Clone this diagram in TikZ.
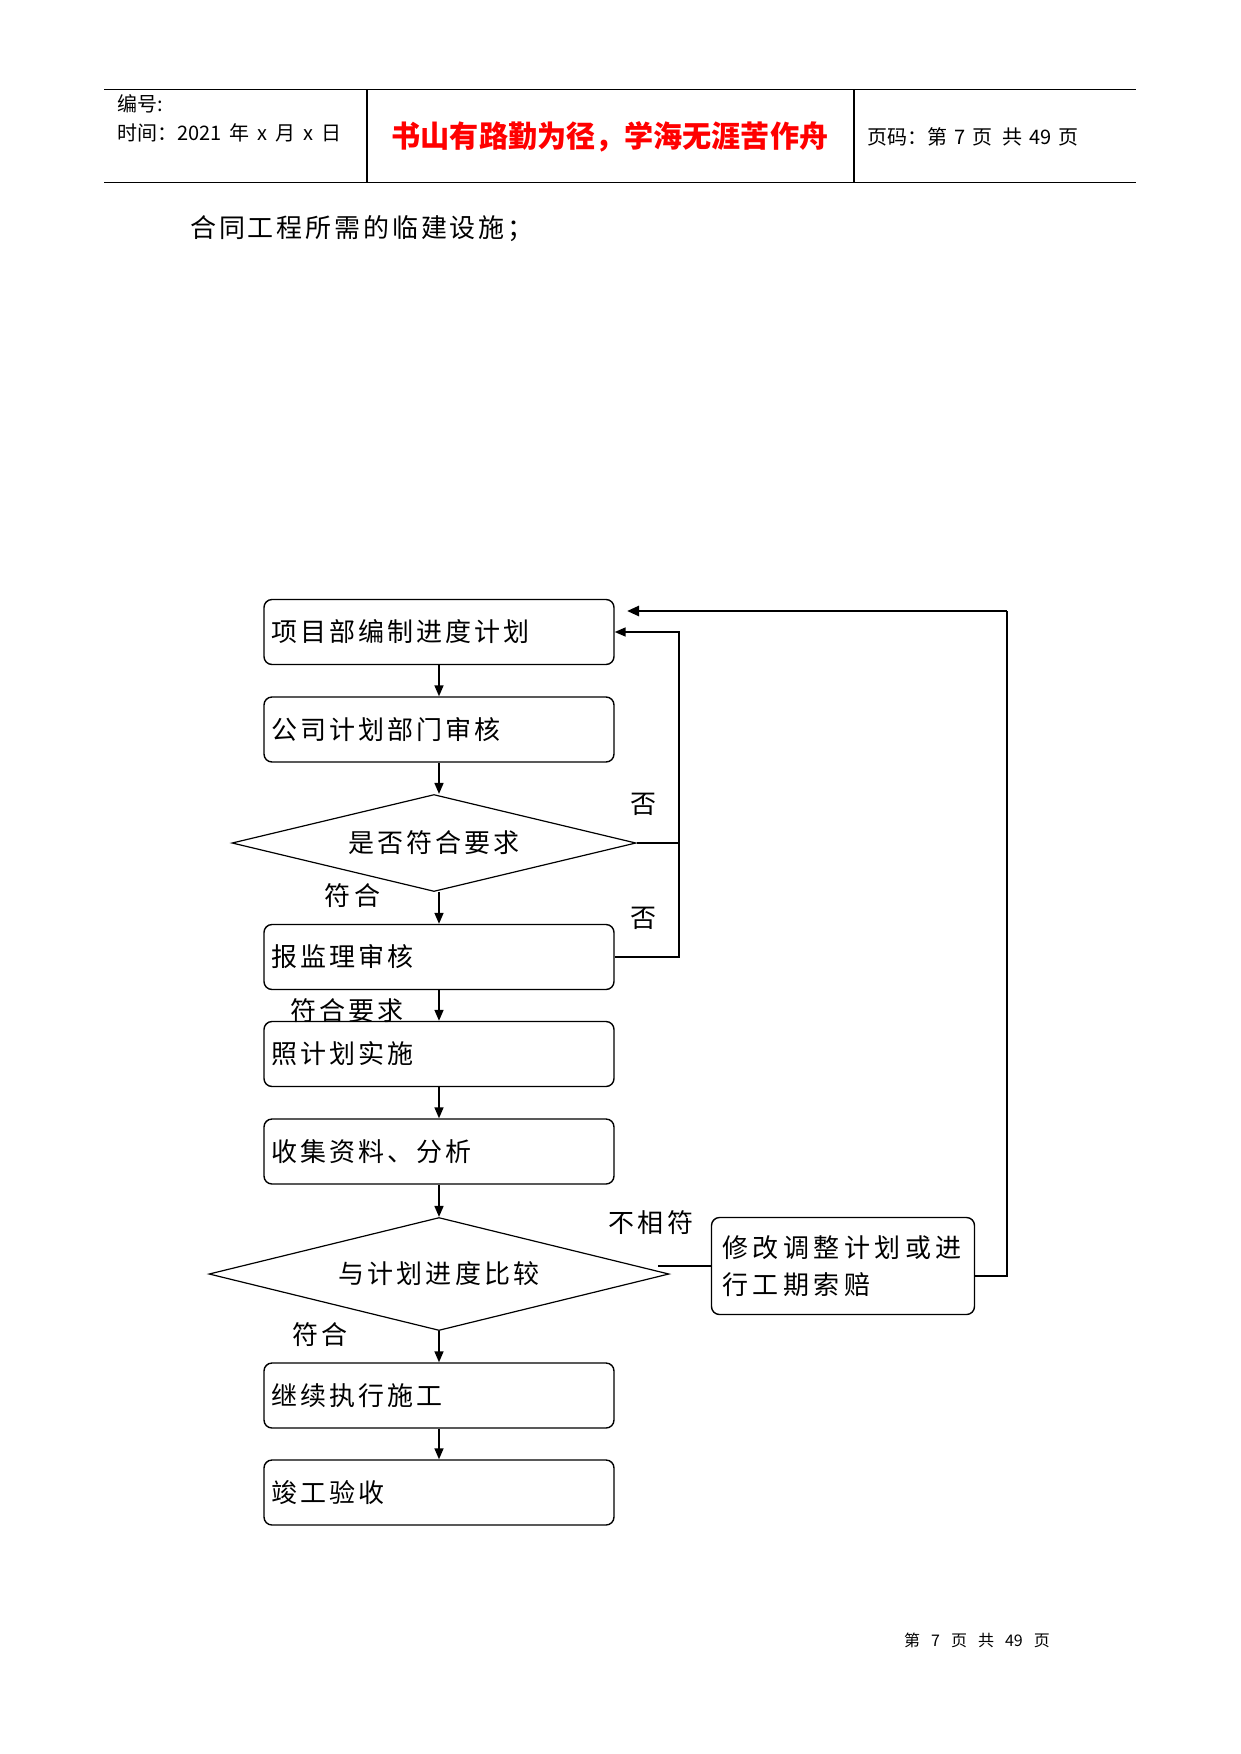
\documentclass[tikz,border=0pt]{standalone}
\usepackage{fontspec}
\setmainfont{Liberation Sans}
\newfontfamily\cjk{Noto Sans CJK SC}
\newfontfamily\cjkl[LetterSpace=12]{Noto Sans CJK SC}
\newfontfamily\cjkw[LetterSpace=17]{Noto Sans CJK SC}
\newfontfamily\cjkb[LetterSpace=11]{Noto Sans CJK SC}
\newfontfamily\cjkred[FakeStretch=0.97]{Noto Sans CJK SC}
\usetikzlibrary{arrows.meta,shapes.geometric}
\newcommand\bxfont{\cjkl\fontsize{26}{30}\selectfont}
\newcommand\bwfont{\cjkw\fontsize{26}{37}\selectfont}
\newcommand\hdfont{\cjk\fontsize{20}{24}\selectfont}
\begin{document}
\begin{tikzpicture}[x=1pt,y=-1pt,
  stepbox/.style={draw, line width=1.4pt, rounded corners=8pt, minimum height=65pt,
    text width=336pt, inner xsep=7pt, align=left, font=\bxfont},
  decision/.style={draw, diamond, shape aspect=4.2, line width=1.2pt, inner sep=0pt, font=\bxfont},
  lbl/.style={font=\bxfont, inner sep=0pt},
  arr/.style={line width=1.6pt, -{Triangle[length=11pt,width=9pt]}},
  conn/.style={line width=1.6pt},
  hline/.style={line width=1.2pt}]
\useasboundingbox (0,0) rectangle (1241,1754);
% header
\draw[hline] (104,89.5) -- (1136,89.5);
\draw[hline] (104,182.4) -- (1136,182.4);
\draw[hline] (367,89.5) -- (367,182.4);
\draw[hline] (854,89.5) -- (854,182.4);
\node[anchor=west, inner sep=0pt, font=\hdfont] (h1) at (117,104) {编号:};
\node[anchor=west, inner sep=0pt, font=\hdfont] (h2) at (117,133) {时间：2021\hspace{8pt}年\hspace{8pt}x\hspace{8pt}月\hspace{8pt}x\hspace{8pt}日};
\node[inner sep=0pt, text=red, font=\cjkred\bfseries\fontsize{30}{34}\selectfont] (h3) at (610,137) {书山有路勤为径，学海无涯苦作舟};
\node[anchor=west, inner sep=0pt, font=\hdfont] (h4) at (867,137) {页码：第\hspace{7pt}7\hspace{7pt}页\hspace{10pt}共\hspace{7pt}49\hspace{7pt}页};
% body line
\node[anchor=west, inner sep=0pt, font=\cjkb\fontsize{26}{30}\selectfont] (body) at (190,229) {合同工程所需的临建设施；};
% flowchart boxes
\node[stepbox] (b1) at (439,632) {项目部编制进度计划};
\node[stepbox] (b2) at (439,729.5) {公司计划部门审核};
\node[decision, minimum width=404pt, minimum height=97pt] (d1) at (434,843) {是否符合要求};
\node[stepbox] (b3) at (439,957) {报监理审核};
\node[stepbox] (b4) at (439,1054) {照计划实施};
\node[stepbox] (b5) at (439,1151.5) {收集资料、分析};
\node[decision, minimum width=460pt, minimum height=113pt] (d2) at (439,1274) {与计划进度比较};
\node[stepbox] (b7) at (439,1395.5) {继续执行施工};
\node[stepbox] (b8) at (439,1492.5) {竣工验收};
\node[draw, line width=1.4pt, rounded corners=8pt, minimum height=97pt, text width=241pt,
  inner xsep=11pt, align=left, font=\bwfont] (b6) at (843,1266) {修改调整计划或进\\行工期索赔};
% labels
\node[lbl] (l1) at (643,804.5) {否};
\node[lbl] (l2) at (643,918.7) {否};
\node[lbl] (l3) at (352.5,896) {符合};
\node[lbl] (l4) at (347,1010.5) {符合要求};
\node[lbl] (l5) at (651,1223) {不相符};
\node[lbl] (l6) at (320,1335) {符合};
% helper coordinates
\coordinate (fbx) at (679,632);
\coordinate (fby) at (1007,611);
\coordinate (fbend) at (627,611);
\coordinate (ncx) at (658,1266);
% main connectors
\draw[arr] (b1.south) -- (b2.north);
\draw[arr] (b2.south) -- (b2.south |- d1.north);
\draw[arr] (b3.north |- d1.south) -- (b3.north);
\draw[arr] (b3.south) -- (b4.north);
\draw[arr] (b4.south) -- (b5.north);
\draw[arr] (b5.south) -- (b5.south |- d2.north);
\draw[arr] (b7.north |- d2.south) -- (b7.north);
\draw[arr] (b7.south) -- (b8.north);
% feedback loops
\draw[conn] (d1.east) -- (d1.east -| fbx);
\draw[arr] (b3.east) -| (fbx) -- (b1.east);
\draw[line width=1.1pt] (b6.west) -- (ncx);
\draw[line width=1.2pt] ([yshift=-10pt]b6.east) -| (fby);
\draw[line width=2.6pt, -{Triangle[length=12pt,width=10pt]}] (fby) -- (fbend);
% footer
\node[inner sep=0pt, font=\cjk\fontsize{16}{20}\selectfont] (foot) at (977,1640) {第\hspace{11pt}7\hspace{11pt}页\hspace{11pt}共\hspace{11pt}49\hspace{11pt}页};
\end{tikzpicture}
\end{document}
